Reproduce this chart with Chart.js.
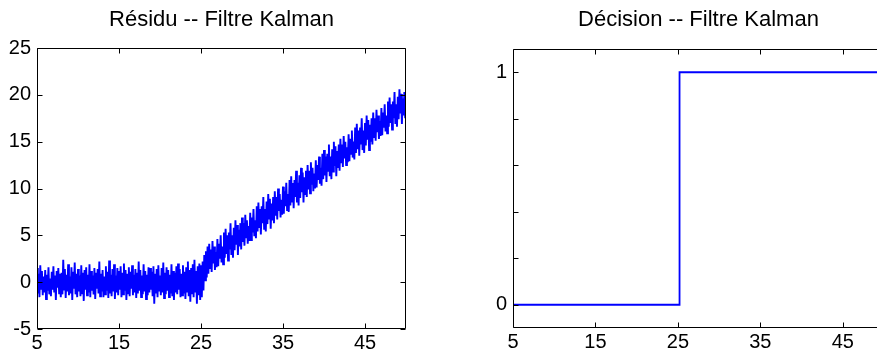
<!DOCTYPE html>
<html>
<head>
<meta charset="utf-8">
<title>Résidu / Décision -- Filtre Kalman</title>
<script src="https://cdn.jsdelivr.net/npm/chart.js@4.4.1/dist/chart.umd.min.js"></script>
<style>
  html, body { margin: 0; padding: 0; background: #fff; overflow: hidden; }
  body { width: 877px; height: 354px; position: relative; }
  canvas { position: absolute; top: 0; }
  #residuChart { left: 0; }
  #decisionChart { left: 476px; }
</style>
</head>
<body>
<canvas id="residuChart" width="440" height="354"></canvas>
<canvas id="decisionChart" width="441" height="354"></canvas>
<script>
const residuTitle = "Résidu -- Filtre Kalman";
const decisionTitle = "Décision -- Filtre Kalman";

const sampleStart = 5;
const sampleStep = 0.1;
const residuValues = [
  // t = 5 .. 24.9
  1.5, -1.2, 0.9, -1.6, 1.8, -0.7, 1.2, -1.4, 0.6, -1.1,
  1.3, -1.8, 0.8, -0.9, 1.6, -1.3, 0.4, -1.5, 1.1, -0.8,
  1.7, -1.1, 0.7, -1.9, 1.2, -0.6, 1.5, -1.2, 0.9, -1.6,
  1.0, -1.3, 2.4, -0.8, 1.4, -1.7, 0.8, -1.0, 1.9, -1.4,
  0.6, -1.2, 1.6, -1.9, 1.1, -0.7, 2.1, -1.3, 0.9, -1.6,
  1.4, -1.0, 0.7, -1.5, 1.8, -1.2, 1.0, -2.0, 1.3, -0.8,
  1.6, -1.4, 0.8, -1.1, 1.9, -1.6, 1.2, -0.9, 0.7, -1.3,
  1.5, -1.8, 1.0, -0.7, 1.4, -1.2, 2.2, -1.5, 0.9, -1.0,
  1.3, -1.6, 0.6, -1.3, 1.7, -0.9, 1.1, -1.7, 2.3, -1.2,
  0.8, -1.5, 1.4, -1.0, 1.9, -1.8, 0.7, -1.1, 1.5, -1.4,
  1.2, -0.8, 1.7, -1.6, 1.0, -1.3, 2.0, -0.9, 1.3, -1.9,
  0.9, -1.2, 1.6, -1.5, 1.1, -0.7, 1.8, -1.4, 0.8, -1.1,
  1.4, -1.7, 1.0, -1.2, 2.2, -0.9, 1.3, -1.6, 0.7, -1.3,
  1.9, -1.0, 1.2, -1.8, 0.8, -1.4, 1.6, -1.1, 1.5, -0.8,
  1.1, -1.5, 1.7, -2.3, 0.9, -1.2, 1.4, -1.6, 1.8, -1.0,
  0.7, -1.4, 1.5, -1.1, 2.1, -1.7, 1.0, -1.3, 1.6, -0.9,
  1.3, -1.6, 0.8, -1.2, 1.9, -1.5, 1.2, -1.9, 1.0, -1.1,
  1.7, -1.3, 2.0, -0.8, 1.4, -1.6, 0.9, -1.4, 1.8, -1.2,
  1.1, -1.8, 1.6, -1.0, 2.2, -1.5, 1.3, -2.1, 1.5, -1.3,
  1.9, -1.6, 2.4, -1.1, 1.2, -2.3, 1.7, -1.4, 2.0, -1.9,
  // t = 25 .. 49.9
  1.8, -1.6, 2.2, -0.9, 2.9, 0.2, 3.3, 0.5, 3.8, 0.9,
  4.1, 1.5, 3.5, 1.1, 4.4, 2.0, 3.8, 1.3, 3.2, 1.6,
  4.6, 1.7, 4.1, 2.5, 5.0, 2.1, 3.8, 1.9, 5.3, 2.6,
  5.7, 3.0, 5.0, 2.3, 5.3, 3.5, 6.3, 2.9, 5.0, 2.6,
  5.8, 3.4, 6.6, 4.0, 6.1, 2.9, 5.6, 3.8, 6.3, 3.5,
  6.9, 4.3, 6.3, 3.9, 7.2, 4.8, 6.6, 4.1, 6.0, 4.4,
  7.4, 4.5, 6.9, 5.3, 7.8, 4.9, 6.6, 4.7, 8.1, 5.4,
  8.5, 5.8, 7.8, 5.1, 8.1, 6.3, 9.1, 5.7, 7.8, 5.4,
  8.6, 6.2, 9.4, 6.8, 8.9, 5.7, 8.4, 6.6, 9.1, 6.3,
  9.7, 7.1, 9.1, 6.7, 10.0, 7.6, 9.4, 6.9, 8.8, 7.2,
  10.2, 7.3, 9.7, 8.1, 10.6, 7.7, 9.4, 7.5, 10.9, 8.2,
  11.3, 8.6, 10.6, 7.9, 10.9, 9.1, 11.9, 8.5, 10.6, 8.2,
  11.4, 9.0, 12.2, 9.6, 11.7, 8.5, 11.2, 9.4, 11.9, 9.1,
  12.5, 9.9, 11.9, 9.5, 12.8, 10.4, 12.2, 9.7, 11.6, 10.0,
  13.0, 10.1, 12.5, 10.9, 13.4, 10.5, 12.2, 10.3, 13.7, 11.0,
  14.1, 11.4, 13.4, 10.7, 13.7, 11.9, 14.7, 11.3, 13.4, 11.0,
  14.2, 11.8, 15.0, 12.4, 14.5, 11.3, 14.0, 12.2, 14.7, 11.9,
  15.3, 12.7, 14.7, 12.3, 15.6, 13.2, 15.0, 12.5, 14.4, 12.8,
  15.8, 12.9, 15.3, 13.7, 16.2, 13.3, 15.0, 13.1, 16.5, 13.8,
  16.9, 14.2, 16.2, 13.5, 16.5, 14.7, 17.5, 14.1, 16.2, 13.8,
  17.0, 14.6, 17.8, 15.2, 17.3, 14.1, 16.8, 15.0, 17.5, 14.7,
  18.1, 15.5, 17.5, 15.1, 18.4, 16.0, 17.8, 15.3, 17.2, 15.6,
  18.6, 15.7, 18.1, 16.5, 19.0, 16.1, 17.8, 15.9, 19.3, 16.6,
  19.7, 17.0, 19.0, 16.3, 19.3, 17.5, 20.3, 16.9, 19.0, 16.6,
  19.8, 17.4, 20.6, 18.0, 20.1, 16.9, 19.6, 17.8, 20.3, 17.5,
  // t = 50
  19.6,
];

const decisionTimes = [5, 25.2, 25.2, 50];
const decisionValues = [0, 0, 1, 1];

const timeTicks = [5, 15, 25, 35, 45];
const residuTicks = [-5, 0, 5, 10, 15, 20, 25];
const decisionTicks = [0, 0.2, 0.4, 0.6, 0.8, 1];
const decisionTickLabels = ["0", "", "", "", "", "1"];

const BLUE = "#0000ff";

Chart.defaults.font.family = '"Liberation Sans", Arial, Helvetica, sans-serif';
Chart.defaults.color = "#000";

// matlab style box with inward ticks on all four sides
const frameTicks = {
  id: "frameTicks",
  afterDatasetsDraw(chart) {
    const { ctx, chartArea, scales } = chart;
    const left = Math.round(chartArea.left) + 0.5;
    const right = Math.round(chartArea.right) - 0.5;
    const top = Math.round(chartArea.top) + 0.5;
    const bottom = Math.round(chartArea.bottom) - 0.5;
    const tickLen = 5;

    ctx.save();
    ctx.strokeStyle = "#000";
    ctx.lineWidth = 1;
    ctx.beginPath();
    ctx.rect(left, top, right - left, bottom - top);

    scales.x.ticks.forEach((tick) => {
      const px = Math.round(scales.x.getPixelForValue(tick.value)) + 0.5;
      ctx.moveTo(px, bottom);
      ctx.lineTo(px, bottom - tickLen);
      ctx.moveTo(px, top);
      ctx.lineTo(px, top + tickLen);
    });
    scales.y.ticks.forEach((tick) => {
      const py = Math.round(scales.y.getPixelForValue(tick.value)) + 0.5;
      ctx.moveTo(left, py);
      ctx.lineTo(left + tickLen, py);
      ctx.moveTo(right, py);
      ctx.lineTo(right - tickLen, py);
    });
    ctx.stroke();
    ctx.restore();
  },
};

const buildOptions = (cfg) => ({
  responsive: false,
  animation: false,
  layout: { padding: { left: 0, right: cfg.padRight, top: 0, bottom: 0 } },
  elements: { point: { radius: 0 } },
  plugins: {
    legend: { display: false },
    tooltip: { enabled: false },
    title: {
      display: true,
      text: cfg.title,
      fullSize: false,
      color: "#000",
      font: { size: 22, weight: "normal" },
      padding: { top: 7, bottom: cfg.titleBottom },
    },
  },
  scales: {
    x: {
      type: "linear",
      min: 5,
      max: 50,
      afterBuildTicks: (axis) => {
        axis.ticks = timeTicks.map((value) => ({ value }));
      },
      afterFit: (axis) => {
        axis.height = cfg.xAxisHeight;
      },
      grid: { display: false, drawTicks: false },
      border: { display: false },
      ticks: {
        font: { size: 20 },
        padding: 2,
        maxRotation: 0,
        autoSkip: false,
        callback: (value) => String(value),
      },
    },
    y: {
      type: "linear",
      min: cfg.yMin,
      max: cfg.yMax,
      afterBuildTicks: (axis) => {
        axis.ticks = cfg.yTicks.map((value) => ({ value }));
      },
      afterFit: (axis) => {
        axis.width = 37;
      },
      grid: { display: false, drawTicks: false },
      border: { display: false },
      ticks: {
        font: { size: 20 },
        padding: 6,
        autoSkip: false,
        callback: (value, index) => cfg.yLabels[index],
      },
    },
  },
});

new Chart(document.getElementById("residuChart"), {
  type: "line",
  data: {
    datasets: [
      {
        label: "Résidu",
        data: residuValues.map((y, i) => ({ x: sampleStart + i * sampleStep, y })),
        borderColor: BLUE,
        borderWidth: 1.9,
        pointRadius: 0,
        tension: 0,
        fill: false,
      },
    ],
  },
  options: buildOptions({
    title: residuTitle,
    padRight: 34,
    titleBottom: 14.6,
    xAxisHeight: 25,
    yMin: -5,
    yMax: 25,
    yTicks: residuTicks,
    yLabels: residuTicks.map(String),
  }),
  plugins: [frameTicks],
});

new Chart(document.getElementById("decisionChart"), {
  type: "line",
  data: {
    datasets: [
      {
        label: "Décision",
        data: decisionTimes.map((x, i) => ({ x, y: decisionValues[i] })),
        borderColor: BLUE,
        borderWidth: 1.8,
        pointRadius: 0,
        tension: 0,
        fill: false,
      },
    ],
  },
  options: buildOptions({
    title: decisionTitle,
    padRight: 33,
    titleBottom: 15.6,
    xAxisHeight: 26,
    yMin: -0.1,
    yMax: 1.1,
    yTicks: decisionTicks,
    yLabels: decisionTickLabels,
  }),
  plugins: [frameTicks],
});
</script>
</body>
</html>
